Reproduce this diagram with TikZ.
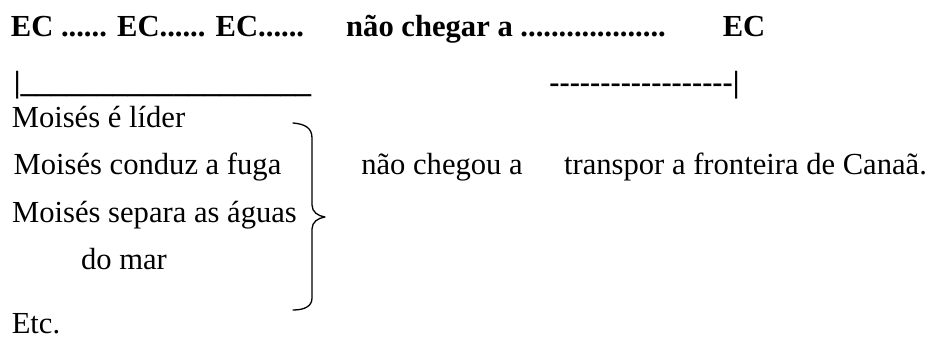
\documentclass[tikz,border=0pt]{standalone}
\usepackage{fontspec}
\setmainfont{Liberation Serif}
\newcommand{\dsh}{{-}}
\begin{document}
\begin{tikzpicture}[x=1pt,y=-1pt,
  txt/.style={anchor=base,inner sep=0pt,font=\fontsize{30.6}{36}\selectfont},
  hd/.style={txt,font=\fontsize{30.6}{36}\selectfont\bfseries},
  bracepath/.style={line width=1.3pt,line cap=round,line join=round}]
\useasboundingbox (0,0) rectangle (934,342);
% header
\node[hd] (h1) at (157.5,37) {EC ...... EC...... EC......};
\node[hd] (h2) at (506,37) {não chegar a ...................};
\node[hd] (h3) at (744,37) {EC};
\node[hd] (u1) at (162.5,93) {|\_\_\_\_\_\_\_\_\_\_\_\_\_\_\_\_\_\_\_};
\node[hd] (u2) at (644.5,93) {\dsh\dsh\dsh\dsh\dsh\dsh\dsh\dsh\dsh\dsh\dsh\dsh\dsh\dsh\dsh\dsh\dsh\dsh|};
% left column
\node[txt] (m1) at (98.5,128) {Moisés é líder};
\node[txt] (m2) at (147.5,175) {Moisés conduz a fuga};
\node[txt] (m3) at (154.5,222) {Moisés separa as águas};
\node[txt] (m4) at (124,269) {do mar};
\node[txt] (etc) at (36,333) {Etc.};
% right side
\node[txt] (nc) at (442,175) {não chegou a};
\node[txt] (tr) at (745.5,175) {transpor a fronteira de Canaã.};
% brace
\draw[bracepath] (293,123) .. controls (305,124) and (312,128) .. (312,138)
  -- (312,205) .. controls (312,212) and (318,216) .. (325,217)
  .. controls (318,218) and (312,222) .. (312,229)
  -- (312,298) .. controls (312,306) and (305,310) .. (293,310);
\end{tikzpicture}
\end{document}
